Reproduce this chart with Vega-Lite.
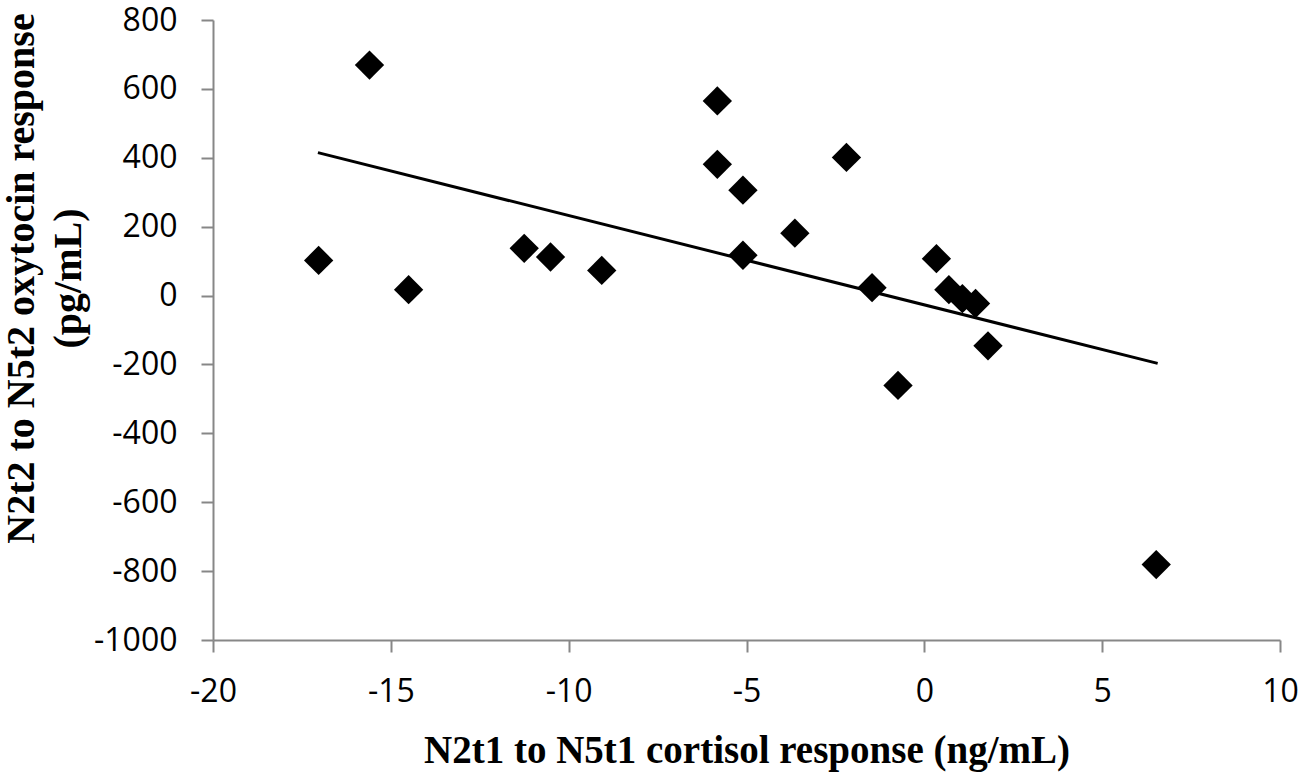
{
  "$schema": "https://vega.github.io/schema/vega-lite/v6.json",
  "width": 1067,
  "height": 620,
  "autosize": {"type": "none"},
  "padding": {"left": 213, "top": 20, "right": 26, "bottom": 138},
  "background": "white",
  "config": {
    "view": {"stroke": null},
    "axis": {
      "grid": false,
      "domainColor": "#878787",
      "domainWidth": 2,
      "tickColor": "#878787",
      "tickWidth": 2,
      "tickSize": 12,
      "labelFont": "Open Sans",
      "labelFontSize": 32,
      "labelColor": "black",
      "labelPadding": 24,
      "labelFlush": false,
      "labelOverlap": false,
      "labelExpr": "'' + datum.value",
      "titleFont": "Liberation Serif",
      "titleFontWeight": "bold",
      "titleColor": "black"
    }
  },
  "datasets": {
    "points": [
      {"x": -17.03, "y": 102},
      {"x": -15.6, "y": 669},
      {"x": -14.5, "y": 17},
      {"x": -11.25, "y": 137},
      {"x": -10.51, "y": 112},
      {"x": -9.07, "y": 73},
      {"x": -5.82, "y": 565},
      {"x": -5.82, "y": 381},
      {"x": -5.1, "y": 306},
      {"x": -5.1, "y": 117},
      {"x": -3.64, "y": 181},
      {"x": -2.19, "y": 401},
      {"x": -1.47, "y": 23},
      {"x": -0.74, "y": -261},
      {"x": 0.34, "y": 107},
      {"x": 0.69, "y": 17},
      {"x": 1.07, "y": -9},
      {"x": 1.44, "y": -23},
      {"x": 1.79, "y": -146},
      {"x": 6.52, "y": -781}
    ],
    "trend": [
      {"x": -17.05, "y": 415},
      {"x": 6.56, "y": -197}
    ]
  },
  "encoding": {
    "x": {
      "field": "x",
      "type": "quantitative",
      "scale": {"domain": [-20, 10], "nice": false, "zero": false},
      "axis": {
        "values": [-20, -15, -10, -5, 0, 5, 10],
        "title": "N2t1 to N5t1 cortisol response (ng/mL)",
        "titleFontSize": 39,
        "titleBaseline": "alphabetic",
        "titleY": 122
      }
    },
    "y": {
      "field": "y",
      "type": "quantitative",
      "scale": {"domain": [-1000, 800], "nice": false, "zero": false},
      "axis": {
        "values": [-1000, -800, -600, -400, -200, 0, 200, 400, 600, 800],
        "title": ["N2t2 to N5t2 oxytocin response", "(pg/mL)"],
        "titleFontSize": 40,
        "titleAngle": -90,
        "titleAlign": "center",
        "titleBaseline": "alphabetic",
        "titleLineHeight": 47,
        "titleX": -180,
        "titleY": 258
      }
    }
  },
  "layer": [
    {
      "data": {"name": "trend"},
      "mark": {"type": "line", "color": "black", "strokeWidth": 3}
    },
    {
      "data": {"name": "points"},
      "mark": {"type": "point", "shape": "diamond", "filled": true, "color": "black", "opacity": 1, "size": 860}
    }
  ]
}
